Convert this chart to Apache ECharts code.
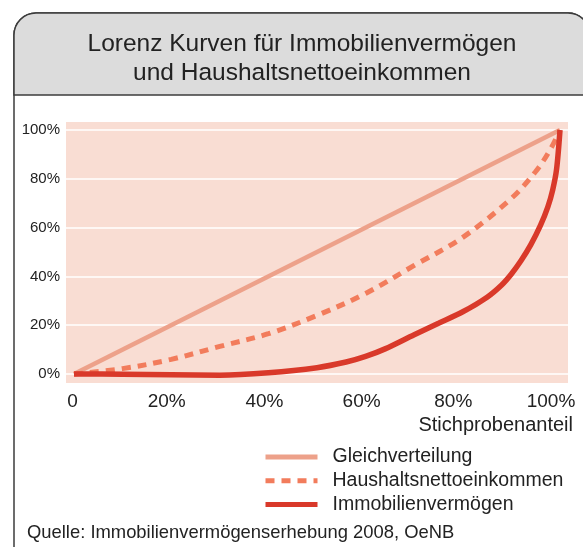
<!DOCTYPE html>
<html lang="de">
<head>
<meta charset="UTF-8">
<title>Lorenz Kurven</title>
<script src="https://cdn.jsdelivr.net/npm/echarts@6/dist/echarts.min.js"></script>
<style>
  html, body { margin: 0; padding: 0; background: #fff; }
  #main { width: 583px; height: 547px; }
</style>
</head>
<body>
<div id="main"></div>
<script>
// tick labels
const xTicks = [0, 20, 40, 60, 80, 100];
const xTickLabels = ['0', '20%', '40%', '60%', '80%', '100%'];
const yTicks = [0, 20, 40, 60, 80, 100];
const yTickLabels = ['0%', '20%', '40%', '60%', '80%', '100%'];

// series (x = Stichprobenanteil in %, y = kumulierter Anteil in %)
const equalX = [0, 100];
const equalY = [0, 100];
const incomeX = [0, 10, 20, 30, 40, 50, 60, 70, 80, 90, 95, 98, 100];
const incomeY = [0, 2.2, 6, 11.3, 16.5, 24, 33, 44.5, 56, 72, 83, 92, 100];
const wealthX = [0, 10, 20, 30, 40, 50, 56, 60, 64, 70, 75, 80, 85, 88, 90, 92, 94, 96, 97.5, 98.5, 99.3, 100];
const wealthY = [0, -0.1, -0.3, -0.5, 0.5, 2.6, 4.9, 7.2, 10.3, 16.1, 20.8, 25.5, 31.5, 36.5, 41, 46.5, 53, 61, 68.5, 75.5, 84, 100];

const names = ['Gleichverteilung', 'Haushaltsnettoeinkommen', 'Immobilienvermögen'];

const zip = (xs, ys) => xs.map((x, i) => [x, ys[i]]);

const font = 'Liberation Sans, Arial, sans-serif';
// small left shifts of the x labels as in the print
const xShift = [1.5, 4.5, 4, 4, 9.5, 9];
const rich = {};
xShift.forEach((s, i) => { rich['l' + i] = { fontSize: 19, color: '#222', fontFamily: font, padding: [0, 2 * s, 0, 0] }; });

const chart = echarts.init(document.getElementById('main'));

chart.setOption({
  animation: false,
  graphic: [
    { type: 'rect', z: -10, shape: { x: 14, y: 13, width: 576, height: 560, r: [22, 22, 0, 0] },
      style: { fill: 'none', stroke: '#3c3c3c', lineWidth: 1.5 } },
    { type: 'rect', z: -9, shape: { x: 14, y: 13, width: 576, height: 82, r: [22, 22, 0, 0] },
      style: { fill: '#dcdcdc', stroke: '#3c3c3c', lineWidth: 1.5 } },
    { type: 'text', z: 5, style: { text: 'Lorenz Kurven für Immobilienvermögen\nund Haushaltsnettoeinkommen',
      x: 302, y: 30, textAlign: 'center', fill: '#222', font: '24.5px ' + font, lineHeight: 28.5 } },
    { type: 'text', z: 5, style: { text: 'Quelle: Immobilienvermögenserhebung 2008, OeNB',
      x: 27, y: 533, textVerticalAlign: 'middle', fill: '#222', font: '18.4px ' + font } }
  ],
  legend: {
    orient: 'vertical',
    left: 258,
    top: 442,
    itemWidth: 52,
    itemHeight: 14,
    itemGap: 3.7,
    data: names,
    itemStyle: { opacity: 0 },
    lineStyle: { width: 5 },
    textStyle: { fontSize: 19.5, lineHeight: 20, color: '#222', fontFamily: font, padding: [0, 0, 0, 10] }
  },
  grid: {
    left: 66, right: 15, top: 122, bottom: 164,
    show: true, backgroundColor: '#f9ddd3', borderWidth: 0
  },
  xAxis: {
    type: 'value',
    min: -1.646, max: 101.646,
    name: 'Stichprobenanteil',
    nameLocation: 'end',
    nameGap: 5,
    nameTextStyle: { align: 'right', verticalAlign: 'top', fontSize: 20, color: '#222', fontFamily: font, padding: [32, 0, 0, 0] },
    axisLine: { show: false, onZero: false },
    axisTick: { show: false, customValues: xTicks },
    splitLine: { show: false },
    axisLabel: {
      customValues: xTicks, margin: 9,
      formatter: v => { const i = xTicks.indexOf(Math.round(v)); return '{l' + i + '|' + xTickLabels[i] + '}'; },
      rich: rich
    }
  },
  yAxis: {
    type: 'value',
    min: -3.69, max: 103.28,
    axisLine: { show: false, onZero: false },
    axisTick: { show: false, customValues: yTicks },
    splitLine: { show: true, lineStyle: { color: '#ffffff', width: 1.5 } },
    axisLabel: {
      customValues: yTicks, margin: 6, fontSize: 15, color: '#222', fontFamily: font,
      formatter: v => yTickLabels[yTicks.indexOf(Math.round(v))]
    }
  },
  series: [
    { name: names[0], type: 'line', data: zip(equalX, equalY), showSymbol: false, symbol: 'none',
      lineStyle: { color: '#eda18a', width: 4.5 }, itemStyle: { color: '#eda18a' } },
    { name: names[1], type: 'line', data: zip(incomeX, incomeY), showSymbol: false, symbol: 'none',
      smooth: 0.35,
      lineStyle: { color: '#f27c5c', width: 5, type: [9, 7] }, itemStyle: { color: '#f27c5c' } },
    { name: names[2], type: 'line', data: zip(wealthX, wealthY), showSymbol: false, symbol: 'none',
      smooth: 0.3,
      lineStyle: { color: '#d9392a', width: 5.5 }, itemStyle: { color: '#d9392a' } }
  ]
});
</script>
</body>
</html>
